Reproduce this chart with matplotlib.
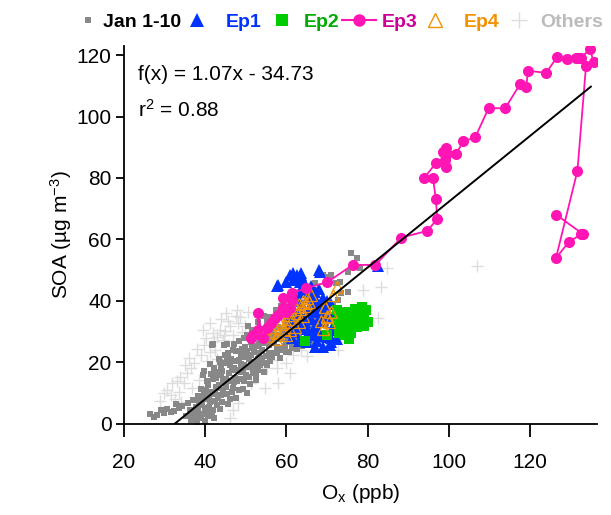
import numpy as np
import matplotlib
matplotlib.use("Agg")
import matplotlib.pyplot as plt
from matplotlib.lines import Line2D

plt.rcParams['font.family'] = ['Liberation Sans', 'DejaVu Sans']
plt.rcParams['mathtext.fontset'] = 'custom'
plt.rcParams['mathtext.rm'] = 'Liberation Sans'
plt.rcParams['mathtext.it'] = 'Liberation Sans:italic'

# ---- data (Ox in ppb, SOA in ug/m3) ----
jan_x = [26.5, 27.3, 28.2, 29.0, 29.8, 30.6, 31.5, 32.3, 32.7, 33.5, 34.4, 35.2, 35.8, 36.5, 37.0,
         37.3, 38.0, 38.2, 38.6, 38.9, 39.2, 39.5, 39.7, 39.9, 40.2, 40.5, 40.8, 41.0, 41.3, 41.5,
         41.7, 41.9, 42.2, 42.5, 42.8, 43.0, 43.3, 43.6, 43.8, 44.0, 44.3, 44.6, 44.8, 45.0, 45.4,
         45.6, 45.9, 46.2, 46.5, 46.8, 47.0, 47.4, 47.7, 48.0, 48.3, 48.6, 48.9, 49.2, 49.5, 49.8,
         50.1, 50.4, 50.6, 50.8, 51.1, 51.4, 51.7, 52.0, 52.3, 52.6, 52.9, 53.2, 53.5, 53.8, 54.1,
         54.4, 54.7, 55.0, 55.3, 55.6, 55.9, 56.2, 56.5, 56.8, 57.1, 57.4, 57.7, 58.0, 58.3, 58.6,
         58.9, 59.2, 59.5, 59.8, 60.1, 60.4, 60.7, 61.0, 61.3, 61.6, 61.9, 62.2, 62.5, 62.8, 63.1,
         63.4, 63.7, 64.0, 64.3, 64.6, 64.9, 65.2, 65.5, 65.8, 66.1, 66.5, 66.8, 67.0, 67.4, 67.4,
         67.8, 68.2, 68.6, 69.0, 69.4, 70.3, 70.6, 71.1, 71.5, 72.3, 72.7, 73.1, 73.5, 74.0, 75.2,
         75.2, 75.8, 77.4, 78.1, 64.0, 62.5, 60.0, 57.5, 36.8, 37.8, 38.5, 39.0, 39.8, 40.0, 40.7,
         41.2, 42.0, 42.6, 43.2, 43.9, 44.5, 45.2, 46.0, 46.6, 47.3, 48.2, 48.8, 49.6, 50.5, 51.3,
         52.2, 53.0, 54.0, 55.2, 60.0, 57.6, 54.3, 51.8, 52.6, 50.2, 64.9,
         36.2, 37.5, 38.3, 38.8, 39.3, 39.6, 40.1, 40.4, 40.9, 41.4, 41.6, 42.1, 42.4, 42.7, 42.9,
         43.4, 43.7, 44.1, 44.2, 44.7, 44.9, 45.3, 45.7, 46.1, 46.4, 46.9, 47.2, 47.6, 47.9, 48.4,
         48.7, 49.1, 49.4, 49.9, 50.3, 50.7, 51.2, 51.6, 51.9, 52.4, 52.8, 53.3, 53.6, 54.2, 54.6,
         55.1, 55.7, 56.0, 56.4, 57.0, 57.3, 57.9, 58.5, 59.0, 59.6, 60.3, 60.9, 61.5, 62.0, 62.7,
         63.3, 63.9, 64.5, 65.3, 65.9, 66.3, 67.1, 68.0, 68.8, 69.7, 66.5, 65.2, 61.2, 58.7, 55.8,
         54.5, 53.0, 51.5, 49.5, 47.0, 45.3, 42.0]
jan_y = [3.2, 2.2, 3.0, 4.4, 3.6, 4.8, 3.8, 4.2, 6.5, 5.0, 5.8, 2.6, 6.8, 1.2, 7.8,
         4.0, 0.5, 9.0, 2.8, 11.5, 6.2, 15.8, 17.2, 0.8, 3.5, 8.5, 12.8, 5.5, 19.5, 10.2,
         25.7, 14.5, 2.0, 7.5, 17.0, 11.8, 21.0, 4.8, 18.6, 9.5, 14.0, 25.7, 22.5, 12.0, 21.9,
         6.5, 16.5, 19.0, 10.5, 24.0, 13.5, 20.5, 8.5, 17.5, 27.0, 14.5, 22.5, 11.5, 19.0, 25.0,
         16.0, 29.0, 31.9, 21.0, 13.0, 26.5, 18.5, 23.5, 29.5, 15.5, 21.0, 26.0, 19.0, 31.0, 24.0,
         17.0, 28.5, 22.0, 33.0, 25.5, 20.5, 30.0, 27.0, 23.0, 34.5, 29.0, 25.0, 31.5, 21.5, 27.5,
         36.0, 24.0, 30.5, 26.5, 33.0, 28.5, 23.5, 31.0, 26.0, 29.5, 35.5, 27.5, 24.5, 32.0, 29.0,
         26.5, 37.5, 30.5, 27.0, 33.5, 25.5, 29.5, 36.0, 27.5, 31.5, 27.3, 34.0, 45.8, 43.6, 27.9,
         30.5, 38.5, 32.5, 48.5, 29.5, 47.9, 35.5, 48.5, 38.7, 45.8, 40.3, 46.3, 42.5, 37.0, 43.0,
         49.5, 55.7, 53.9, 50.8, 42.5, 40.0, 38.5, 37.0, 3.0, 5.5, 7.5, 1.8, 10.0, 5.0, 2.5,
         7.0, 4.5, 12.0, 8.5, 16.0, 11.0, 14.5, 8.0, 17.5, 15.0, 11.0, 19.5, 14.0, 18.5, 22.5,
         20.0, 17.5, 21.5, 19.0, 23.5, 23.0, 19.7, 16.5, 14.3, 10.0, 27.3,
         4.5, 2.0, 4.8, 6.8, 3.2, 8.2, 11.0, 13.8, 9.2, 16.2, 4.0, 18.2, 9.8, 14.8, 6.0,
         12.8, 20.0, 7.2, 17.2, 13.2, 19.8, 9.6, 23.2, 14.0, 21.2, 11.8, 18.2, 23.8, 13.8, 20.8,
         16.8, 24.2, 17.8, 21.8, 23.8, 15.2, 19.8, 24.8, 28.2, 25.2, 18.8, 23.2, 27.8, 26.2, 19.8,
         27.2, 23.2, 28.8, 21.8, 26.2, 31.8, 27.8, 24.8, 29.2, 25.2, 31.2, 27.2, 24.8, 30.2, 28.2,
         31.2, 25.2, 29.8, 32.2, 26.2, 29.2, 31.8, 29.2, 34.8, 32.8, 38.2, 40.8, 39.0, 38.5, 34.8,
         35.2, 33.0, 30.5, 28.0, 26.0, 26.0, 26.0]

ep1_x = [57.8, 60.0, 61.6, 63.7, 62.5, 64.0, 68.0, 58.0, 60.8, 62.5, 63.7, 61.6, 63.3, 68.2,
         65.3, 67.4, 68.2, 65.8, 63.3, 64.9, 67.0, 69.0, 70.7, 69.9, 71.5, 72.3, 68.2, 66.6, 64.5,
         70.7, 69.4, 62.0, 63.0, 64.0, 66.0, 67.0, 66.0, 64.0, 65.0, 67.0, 69.0, 68.0, 63.0, 66.0,
         61.0, 62.0, 70.0, 71.0, 68.0, 82.5,
         62.5, 63.5, 65.0, 66.5, 67.5, 69.0, 70.0, 71.0, 71.5, 72.0, 69.5, 68.5, 67.0, 66.0, 65.0,
         64.0, 63.0, 62.0, 61.0, 60.5, 61.5, 63.0, 65.0, 66.0, 67.5, 68.5, 70.0, 71.0, 72.5]
ep1_y = [44.7, 46.3, 49.0, 49.0, 46.8, 46.8, 50.1, 45.2, 48.5, 48.5, 48.5, 46.8, 46.3, 49.5,
         41.4, 40.3, 34.9, 34.9, 31.6, 28.4, 25.1, 25.1, 25.7, 28.4, 31.6, 30.6, 37.6, 29.5, 33.3,
         34.9, 38.1, 36.0, 40.0, 38.0, 37.0, 43.0, 45.0, 43.0, 31.0, 32.0, 33.0, 30.0, 34.0, 39.0,
         35.0, 30.0, 37.0, 28.0, 44.0, 51.5,
         42.0, 44.0, 44.0, 41.0, 39.0, 41.0, 40.0, 39.0, 35.0, 33.0, 36.0, 35.5, 36.5, 34.0, 36.0,
         32.0, 36.5, 33.0, 32.0, 30.0, 28.0, 27.0, 26.5, 29.0, 27.0, 28.5, 29.0, 26.5, 27.5]

ep2_x = [69.9, 64.5, 72.5, 73.0, 72.5, 73.5, 74.0, 74.5, 75.0, 75.0, 74.5, 75.5, 76.0, 76.0,
         76.5, 77.0, 77.5, 78.0, 78.5, 79.0, 79.5, 80.0, 79.0, 77.5, 76.5, 78.0, 74.0, 73.0, 75.5]
ep2_y = [28.9, 26.8, 37.0, 35.0, 33.0, 31.0, 33.0, 36.0, 34.0, 31.0, 29.0, 27.5, 29.5, 32.0,
         35.0, 37.5, 34.0, 36.0, 38.0, 35.0, 37.0, 33.0, 32.0, 31.5, 33.5, 33.0, 30.0, 29.5, 36.5]

ep3_x = [51.2, 51.8, 53.0, 52.9, 54.3, 55.1, 56.3, 57.1, 58.0, 60.0, 59.2, 60.8, 61.3, 59.2,
         61.3, 64.8, 70.1, 76.3, 81.9, 88.3, 94.7, 97.2, 96.8, 96.1, 94.0, 96.8, 99.4, 99.0,
         99.4, 98.6, 99.2, 101.7, 103.6, 106.5, 109.8, 113.9, 117.6, 119.1, 119.5, 124.0, 126.7,
         129.2, 131.4, 131.9, 132.6, 134.8, 135.7, 133.8, 131.7, 126.4, 129.5, 132.6, 133.1, 126.4]
ep3_y = [27.9, 28.9, 30.6, 36.0, 27.9, 31.1, 32.7, 34.4, 35.4, 36.5, 37.6, 37.6, 40.3, 40.9,
         42.5, 44.1, 46.1, 51.7, 51.7, 60.6, 62.8, 66.7, 73.2, 80.1, 80.1, 84.8, 83.7, 85.9,
         87.5, 88.6, 89.7, 87.7, 91.9, 93.2, 102.7, 102.7, 110.6, 109.7, 114.9, 114.2, 119.4,
         118.6, 119.2, 119.2, 119.2, 121.9, 117.6, 116.4, 82.4, 53.9, 59.1, 61.7, 61.7, 68.1]

ep4_x = [55.5, 56.5, 57.0, 58.0, 58.5, 59.0, 59.5, 60.0, 60.5, 61.0, 61.5, 62.0, 62.5, 63.0,
         63.5, 64.0, 64.5, 65.0, 65.5, 66.0, 60.0, 57.5, 62.0, 63.0, 69.5, 70.0, 70.5, 71.0,
         72.5, 71.5, 69.0, 68.5, 59.0, 61.0, 64.0, 64.9, 69.4, 69.9]
ep4_y = [28.5, 30.0, 31.5, 29.5, 32.5, 34.0, 31.0, 33.0, 35.5, 37.0, 34.0, 38.0, 36.0, 39.0,
         37.5, 40.0, 38.5, 41.0, 39.5, 42.0, 29.0, 27.5, 31.5, 33.0, 38.0, 35.0, 33.0, 36.5,
         44.5, 42.0, 31.0, 33.5, 36.5, 30.5, 35.0, 39.2, 38.1, 34.9]

oth_x = [29.8, 30.7, 31.5, 31.9, 33.1, 33.5, 33.9, 34.8, 35.6, 36.4, 36.8, 37.2, 38.4, 38.9,
         39.5, 39.7, 40.3, 41.2, 41.3, 42.0, 42.1, 42.8, 43.6, 44.4, 44.6, 44.8, 45.5, 46.1,
         46.9, 47.5, 48.1, 48.5, 49.0, 49.8, 50.5, 40.5, 42.5, 44.0, 45.0, 47.8, 36.0, 35.0,
         38.0, 43.0, 46.9, 48.1, 46.0, 51.0, 51.4, 54.7, 55.1, 57.6, 57.6, 58.0, 60.0, 60.8,
         61.6, 63.7, 65.0, 72.7, 78.9, 82.6, 83.2, 84.8, 107.0, 32.5, 28.8, 34.0]
oth_y = [10.0, 11.1, 9.4, 13.2, 13.8, 10.5, 15.4, 13.2, 16.5, 18.1, 11.6, 19.7, 14.3, 22.4,
         30.6, 25.7, 27.9, 32.8, 23.5, 29.5, 26.8, 28.4, 30.6, 27.3, 29.0, 30.1, 33.5, 31.7,
         29.0, 35.0, 32.8, 34.9, 30.0, 31.7, 36.5, 20.5, 24.0, 34.0, 36.0, 37.0, 21.5, 19.0,
         24.5, 21.0, 4.6, 6.7, 2.0, 17.6, 13.2, 11.6, 18.1, 18.1, 20.8, 13.2, 19.7, 16.5,
         22.4, 24.1, 22.0, 24.1, 43.6, 34.4, 44.4, 50.6, 51.2, 8.0, 7.5, 7.0]

fit_slope = 1.07
fit_intercept = -34.73
r_squared = 0.88

c_jan = '#888888'
c_ep1 = '#0033FF'
c_ep2 = '#00CC00'
c_ep3 = '#FF14B4'
c_ep4 = '#F39200'
c_oth = '#DDDDDD'

W, H = 611, 515
fig = plt.figure(figsize=(W / 100, H / 100), dpi=100)
ax = fig.add_axes([0.203, 0.177, 0.774, 0.734])

ax.plot(oth_x, oth_y, ls='none', marker='+', ms=8, mew=1, color=c_oth, zorder=1)
ax.plot(jan_x, jan_y, ls='none', marker='s', ms=4.3, mew=0, color=c_jan, zorder=2)
ax.plot(ep1_x, ep1_y, ls='none', marker='^', ms=9, mew=0, color=c_ep1, zorder=3)
ax.plot(ep2_x, ep2_y, ls='none', marker='s', ms=6.5, mew=0, color=c_ep2, zorder=4)
ax.plot(ep4_x, ep4_y, ls='none', marker='^', ms=8.5, mfc='none', mew=0.9, color=c_ep4, zorder=5)
ax.plot(ep3_x, ep3_y, '-', lw=1.3, marker='o', ms=8, mew=0, color=c_ep3, zorder=6)

fx = np.array([-fit_intercept / fit_slope, 135.0])
ax.plot(fx, fit_slope * fx + fit_intercept, color='black', lw=1.4, zorder=7)

ax.text(0.03, 0.923, 'f(x) = %.2fx - %.2f' % (fit_slope, -fit_intercept),
        transform=ax.transAxes, fontsize=15, va='center')
ax.text(0.03, 0.83, 'r$^{2}$ = %.2f' % r_squared,
        transform=ax.transAxes, fontsize=15, va='center')

ax.set_xlim(20, 136.5)
ax.set_ylim(0, 123)
ax.set_xticks([20, 40, 60, 80, 100, 120])
ax.set_yticks([0, 20, 40, 60, 80, 100, 120])
for s in ['top', 'right']:
    ax.spines[s].set_visible(False)
for s in ['left', 'bottom']:
    ax.spines[s].set_linewidth(1.3)
ax.tick_params(axis='x', direction='out', length=9, width=1.3, labelsize=15, pad=12)
ax.tick_params(axis='y', direction='out', length=6, width=1.3, labelsize=15, pad=3)
ax.set_xlabel('O$_{\\mathrm{x}}$ (ppb)', fontsize=15, labelpad=7)
ax.set_ylabel('SOA (µg m$^{-3}$)', fontsize=15, labelpad=2)

# legend row above the plot, one entry at a time so each sits where it does in the original
handles = [
    Line2D([], [], ls='none', marker='s', ms=4, mew=0, color=c_jan),
    Line2D([], [], ls='none', marker='^', ms=10, mew=0, color=c_ep1),
    Line2D([], [], ls='none', marker='s', ms=9, mew=0, color=c_ep2),
    Line2D([], [], ls='-', lw=1.5, marker='o', ms=9, mew=0, color=c_ep3),
    Line2D([], [], ls='none', marker='^', ms=10, mfc='none', mew=1, color=c_ep4),
    Line2D([], [], ls='none', marker='+', ms=11, mew=1, color=c_oth),
]
labels = ['Jan 1-10', 'Ep1', 'Ep2', 'Ep3', 'Ep4', 'Others']
text_colors = ['black', c_ep1, '#00AA00', '#CC0099', c_ep4, '#BBBBBB']
leg_start_px = [75, 171, 262, 342, 409, 500]
leg_handle_len = [1.35, 2.7, 2.07, 1.75, 2.7, 1.97]
leg_pad = [0.1, 0.1, 0.1, 0.31, 0.1, 0.1]
for h, lab, tc, x0, hl, pd in zip(handles, labels, text_colors, leg_start_px, leg_handle_len, leg_pad):
    lg = fig.legend([h], [lab], loc='center left', bbox_to_anchor=(x0 / W, 1 - 22 / H),
                    frameon=False, handlelength=hl, handletextpad=pd, borderpad=0,
                    borderaxespad=0, prop={'size': 14, 'weight': 'bold'})
    lg.get_texts()[0].set_color(tc)

fig.savefig('out.png', dpi=100)
